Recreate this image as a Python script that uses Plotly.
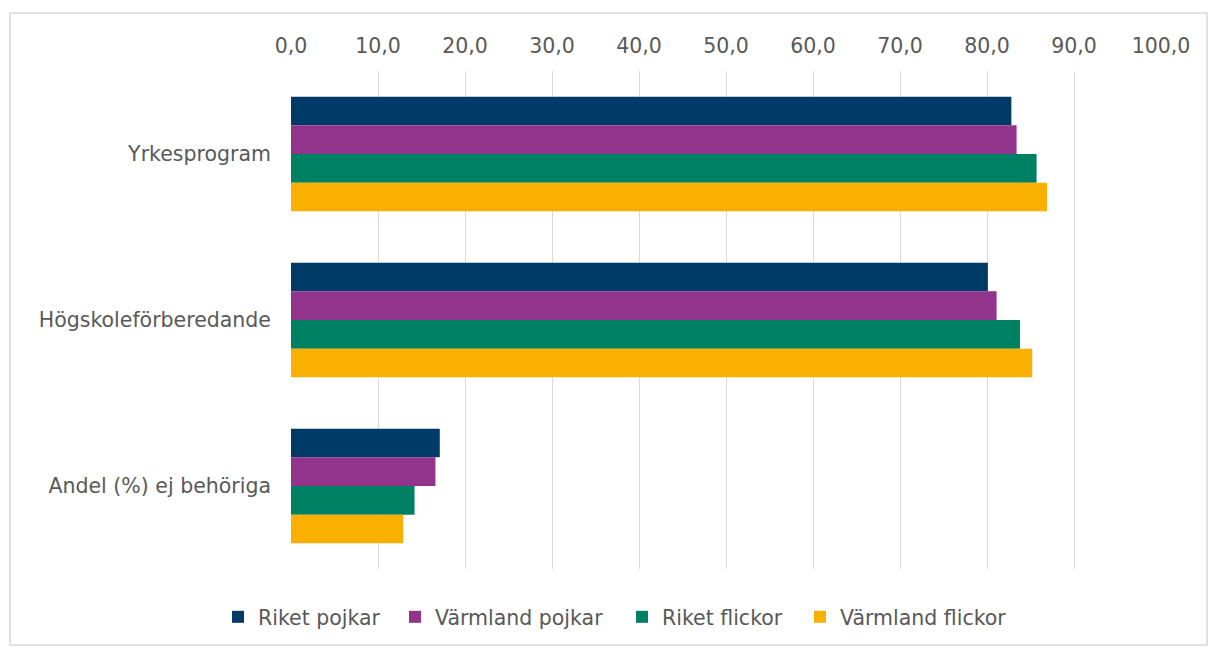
import plotly.graph_objects as go

categories = ["Yrkesprogram", "Högskoleförberedande", "Andel (%) ej behöriga"]
series_names = ["Riket pojkar", "Värmland pojkar", "Riket flickor", "Värmland flickor"]
riket_pojkar = [82.8, 80.1, 17.1]
varmland_pojkar = [83.4, 81.1, 16.6]
riket_flickor = [85.7, 83.8, 14.2]
varmland_flickor = [86.9, 85.2, 12.9]
x_ticks = [0, 10, 20, 30, 40, 50, 60, 70, 80, 90, 100]

series_values = [riket_pojkar, varmland_pojkar, riket_flickor, varmland_flickor]
colors = ["#003A66", "#92338C", "#008062", "#FAB000"]
legend_widths = [132, 182, 133, 180]

FONT = "DejaVu Sans, Liberation Sans, Arial, sans-serif"
FS = 20.5
fig = go.Figure()
for name, vals, col, lw in zip(series_names, series_values, colors, legend_widths):
    fig.add_trace(go.Bar(
        y=categories, x=vals, name=name, orientation="h",
        marker=dict(color=col, line=dict(width=0)),
        legendwidth=lw,
    ))

W, H = 1209, 648
L, R, T, B = 291, 48, 71, 79
pw, ph = W - L - R, H - T - B

def px_to_paper_x(px):
    return (px - L) / pw

def px_to_paper_y(py):
    return (H - B - py) / ph

fig.update_layout(
    width=W, height=H,
    margin=dict(l=L, r=R, t=T, b=B, autoexpand=False),
    barmode="group", bargap=0.31, bargroupgap=0,
    plot_bgcolor="white", paper_bgcolor="white",
    separators=", ",
    font=dict(family=FONT, size=FS, color="#595959"),
    xaxis=dict(
        side="top", range=[0, 100], tickvals=x_ticks, tickformat=".1f",
        showgrid=True, gridcolor="#D9D9D9", gridwidth=1.3,
        zeroline=False, showline=False, ticks="", ticklabelstandoff=13,
        tickfont=dict(family=FONT, size=FS, color="#595959"),
    ),
    yaxis=dict(
        autorange="reversed", showgrid=False, zeroline=False, showline=False,
        ticks="", ticklabelstandoff=19,
        tickfont=dict(family=FONT, size=FS, color="#595959"),
    ),
    legend=dict(
        orientation="h", xref="container", yref="container",
        x=218 / W, xanchor="left", y=1 - 617 / H, yanchor="middle",
        font=dict(family=FONT, size=FS, color="#595959"),
        itemwidth=30, traceorder="normal", entrywidthmode="pixels",
    ),
    shapes=[dict(
        type="rect", xref="paper", yref="paper",
        x0=px_to_paper_x(10), x1=px_to_paper_x(1207),
        y0=px_to_paper_y(645), y1=px_to_paper_y(13),
        line=dict(color="#D9D9D9", width=1.5), fillcolor="rgba(0,0,0,0)",
        layer="below",
    )],
)

fig.write_html(
    "out.html",
    config={"displayModeBar": False},
    post_script="document.body.style.margin='0px';document.body.style.overflow='hidden';",
)
